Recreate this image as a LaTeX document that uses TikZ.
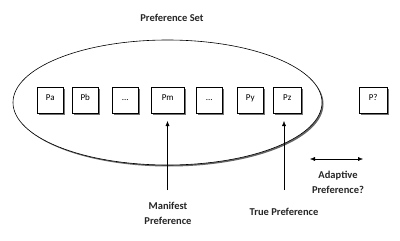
\documentclass[tikz,border=0pt]{standalone}
\usepackage{fontspec}
\setmainfont{Carlito}
\usetikzlibrary{positioning, shapes, arrows.meta, shadows}

\tikzset{
  prefbox/.style={draw, fill=white, minimum width=26pt, minimum height=26pt, inner sep=0pt,
    font=\fontsize{9}{10}\selectfont, text height=10pt, text depth=10pt, anchor=north west,
    drop shadow={shadow xshift=2pt, shadow yshift=-2pt, fill=black!55, opacity=1}},
  label/.style={font=\bfseries\fontsize{10.5}{15}\selectfont, align=center, text=black!85}
}

\begin{document}
\begin{tikzpicture}[x=1pt, y=-1pt]
      \useasboundingbox (0,0) rectangle (400,241);

      % Preference set
      \node[draw, ellipse, line width=0.6pt, minimum width=309pt, minimum height=125pt,
        drop shadow={shadow xshift=1.5pt, shadow yshift=-1.5pt, fill=black!60, opacity=1}, fill=white] (set) at (167.5, 102.5) {};
      \node[label] (settitle) at (172, 18) {Preference Set};

      % Boxes
      \node[prefbox] (pa) at (37, 87) {Pa};
      \node[prefbox] (pb) at (72, 87) {Pb};
      \node[prefbox] (dotsa) at (112, 87) {...};
      \node[prefbox, minimum width=33pt] (pm) at (151, 87) {Pm};
      \node[prefbox] (dotsb) at (196, 87) {...};
      \node[prefbox] (py) at (237, 87) {Py};
      \node[prefbox, minimum width=28pt] (pz) at (273, 87) {Pz};
      \node[prefbox, minimum width=28pt] (pq) at (359, 87) {P?};

      % Labels
      \node[label] (manifest) at (168, 213) {Manifest\\Preference};
      \node[label] (truepref) at (284, 212) {True Preference};
      \node[label] (adaptive) at (338, 182) {Adaptive\\Preference?};

      % Arrows
      \coordinate (mfoot) at (167.5, 190);
      \coordinate (tfoot) at (284, 190);
      \draw[-{Latex[length=5pt, width=4pt]}] (mfoot) -- (mfoot |- 0,121);
      \draw[-{Latex[length=5pt, width=4pt]}] (tfoot) -- (tfoot |- 0,121);
      \coordinate (aleft) at (310, 159);
      \coordinate (aright) at (363, 159);
      \draw[{Latex[length=5pt, width=4pt]}-{Latex[length=5pt, width=4pt]}] (aleft) -- (aright);
    \end{tikzpicture}
\end{document}
